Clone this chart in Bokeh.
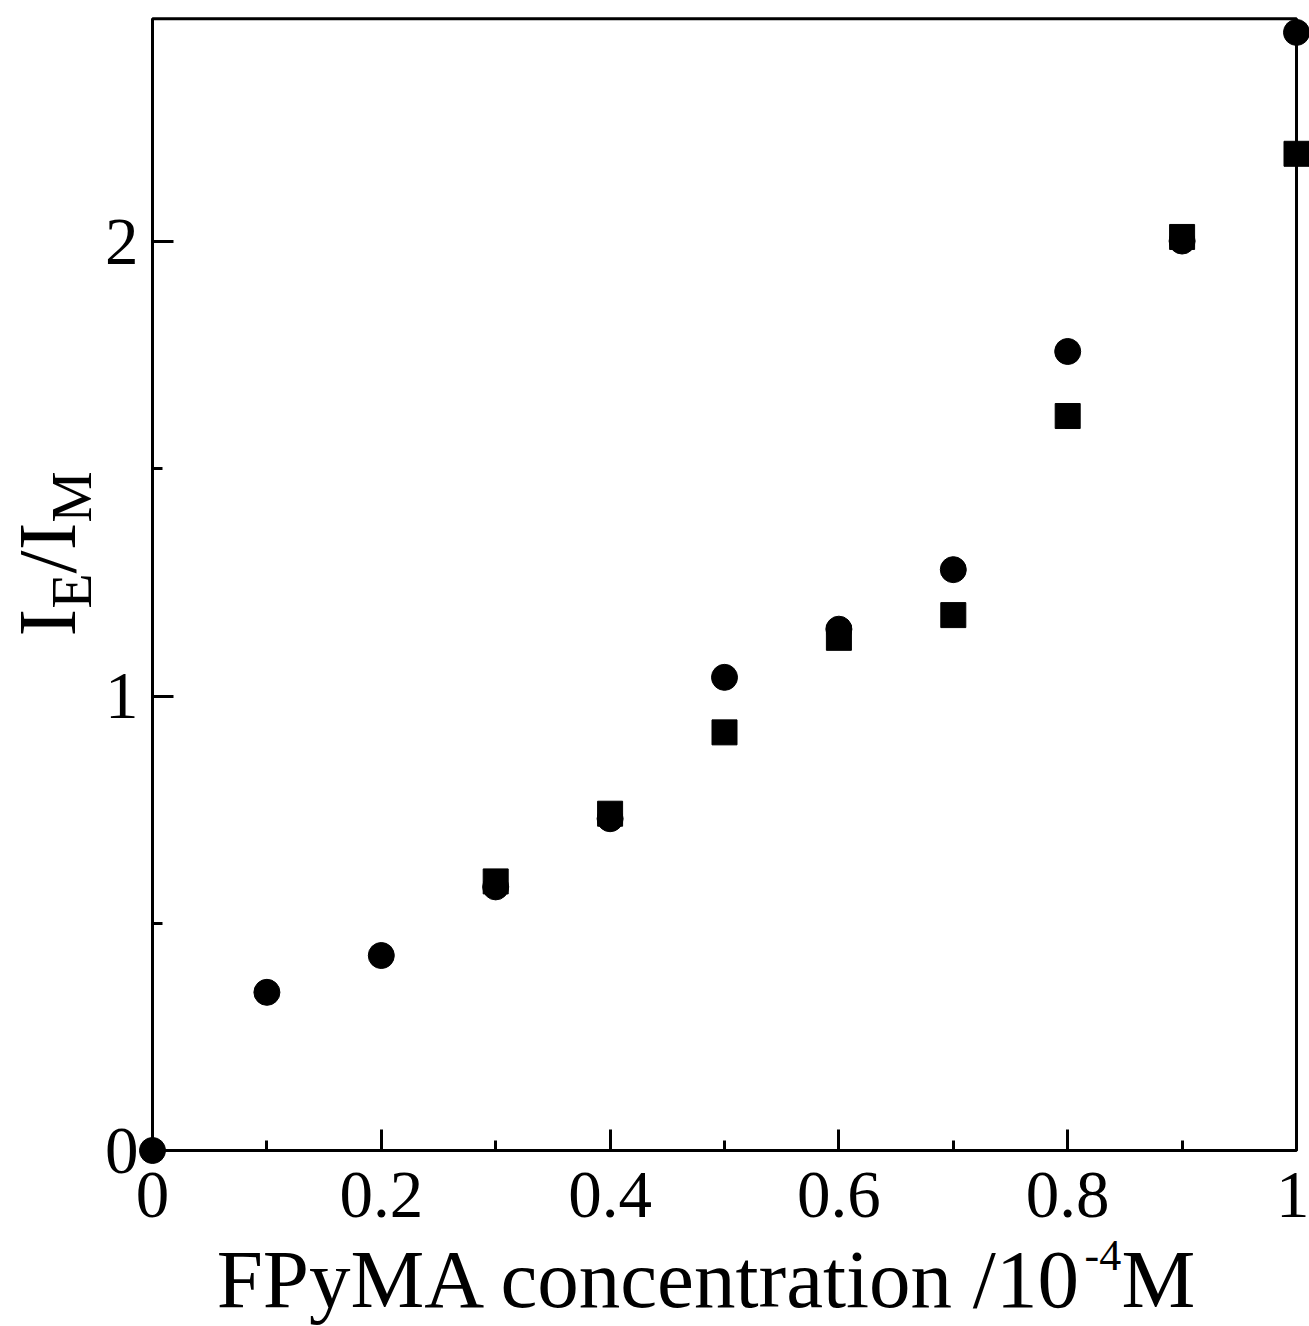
import math
from bokeh.plotting import figure
from bokeh.models import Range1d, FixedTicker, Label, BoxAnnotation
from bokeh.embed import file_html
from bokeh.resources import INLINE

# ---------------- data ----------------
conc_circle = [0.0, 0.1, 0.2, 0.3, 0.4, 0.5, 0.6, 0.7, 0.8, 0.9, 1.0]
ratio_circle = [0.0, 0.348, 0.429, 0.580, 0.730, 1.041, 1.147, 1.278, 1.758, 2.001, 2.460]
conc_square = [0.3, 0.4, 0.5, 0.6, 0.7, 0.8, 0.9, 1.0]
ratio_square = [0.592, 0.741, 0.920, 1.128, 1.178, 1.616, 2.010, 2.193]

x_major = [0.0, 0.2, 0.4, 0.6, 0.8, 1.0]
x_major_labels = ["0", "0.2", "0.4", "0.6", "0.8", "1"]
x_minor = [0.1, 0.3, 0.5, 0.7, 0.9]
y_major = [0, 1, 2]
y_major_labels = ["0", "1", "2"]
y_minor = [0.5, 1.5]
X_LIMIT = 1.0
Y_LIMIT = 2.49

# ---------------- layout helpers (canvas pixels -> data) ----------------
W, H = 1309, 1326
X0_PX, PX_PER_X = 152.0, 1144.0
Y0_PX, PX_PER_Y = 1150.0, 454.5
BASELINE_SHIFT = 0.34   # label anchor sits this many em above the glyph baseline


def dx(px):
    return (px - X0_PX) / PX_PER_X


def dy(py):
    return (Y0_PX - py) / PX_PER_Y


FONT = "Liberation Serif"

p = figure(
    output_backend="svg", toolbar_location=None,
    width=W, height=H,
    x_range=Range1d(dx(0), dx(W)), y_range=Range1d(dy(H), dy(0)),
    min_border=0,
)
p.outline_line_color = None
p.background_fill_color = "white"
p.border_fill_color = "white"
p.xgrid.visible = False
p.ygrid.visible = False

for ax, major, minor, labels in ((p.xaxis[0], x_major, x_minor, x_major_labels),
                                 (p.yaxis[0], y_major, y_minor, y_major_labels)):
    ax.fixed_location = 0
    ax.ticker = FixedTicker(ticks=major, minor_ticks=minor)
    ax.major_label_overrides = dict(zip(major, labels))
    ax.axis_line_color = None
    ax.major_tick_in = 21
    ax.major_tick_out = 0
    ax.minor_tick_in = 10
    ax.minor_tick_out = 0
    ax.major_tick_line_width = 3
    ax.minor_tick_line_width = 3
    ax.major_tick_line_color = "black"
    ax.minor_tick_line_color = "black"
    ax.major_label_text_font = FONT
    ax.major_label_text_font_size = "67px"
    ax.major_label_text_color = "black"
p.xaxis.major_label_standoff = 22
p.yaxis.major_label_standoff = 14

# frame box drawn from the axis limits
p.add_layout(BoxAnnotation(left=0, right=X_LIMIT, bottom=0, top=Y_LIMIT,
                           fill_alpha=0, line_color="black", line_alpha=1.0,
                           line_width=3))

p.scatter(conc_circle, ratio_circle, marker="circle", size=26,
          fill_color="black", line_color="black")
p.scatter(conc_square, ratio_square, marker="square", size=25,
          fill_color="black", line_color="black")


def lab(text, px, py, size, align="left", rotated=False):
    # (px, py) is the start of the glyph baseline in canvas pixels
    if rotated:
        px -= BASELINE_SHIFT * size
    else:
        py -= BASELINE_SHIFT * size
    p.add_layout(Label(x=dx(px), y=dy(py), text=text, text_font=FONT,
                       text_font_size=f"{size}px", text_align=align,
                       text_baseline="alphabetic", text_color="black",
                       angle=math.pi / 2 if rotated else 0.0))


# ---------------- x title ----------------
lab("FPyMA concentration /10", 1083, 1307, 83, align="right")
lab("-4", 1084, 1270, 44)
lab("M", 1121, 1307, 83)

# ---------------- y title (rotated, with subscripts) ----------------
pieces = [("I", 83, 75, 0.333), ("E", 58, 91, 0.611), ("/", 83, 75, 0.278),
          ("I", 83, 75, 0.333), ("M", 58, 91, 0.889)]
ypos = 636.0
for txt, size, basex, adv in pieces:
    lab(txt, basex, ypos, size, rotated=True)
    ypos -= adv * size

open("out.html", "w").write(file_html(p, INLINE))
